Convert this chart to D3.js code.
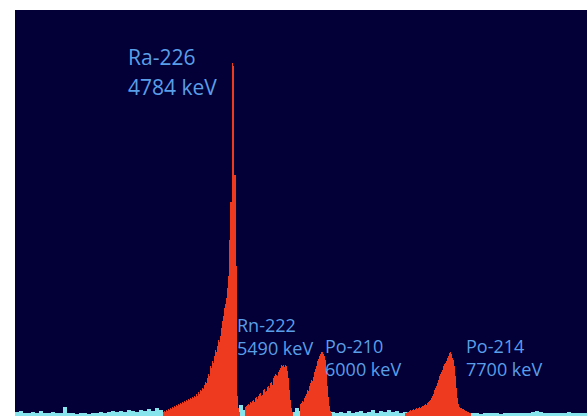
<!DOCTYPE html>
<html>
<head>
<meta charset="utf-8">
<script src="https://cdn.jsdelivr.net/npm/d3@7"></script>
<style>
  html, body { margin: 0; padding: 0; background: #ffffff; }
  svg { display: block; }
</style>
</head>
<body>
<svg id="chart" width="587" height="416"></svg>
<script>
// ---- data (channel counts) ----
const totalChannels = 572;

// background (cyan) counts, 4-channel bins from channel 0
const backgroundBinSize = 4;
const backgroundCounts = [
  4,5,3,3,4,3,5,3,3,4, 3,3,9,3,3,2,3,3,2,3,
  3,4,3,4,5,4,5,4,6,5, 4,6,5,7,5,8,6,4,4,4,
  4,4,4,4,4,4,4,4,4,4, 4,4,4,4,4,4,11,6,4,4,
  4,4,4,4,4,4,4,4,4,4, 8,5,4,4,4,4,4,4,4,4,
  3,4,3,5,3,4,5,3,4,6, 3,5,4,6,4,5,3,4,3,3,
  3,3,3,3,3,3,3,3,3,3, 3,3,3,3,3,3,2,3,3,3,
  3,2,3,3,3,3,3,3,3,4, 5,4,3,3,3,3,3,3,4,3,
  3,3,3
];

// alpha peaks (red): start channel + per-channel counts
const ra226Start = 148;
const ra226Counts = [
  4,5,4,6,5,7,6,8,7,9, 8,10,9,11,10,12,11,13,12,14,
  13,15,14,16,15,17,16,18,17,19, 18,20,19,22,20,24,22,26,
  25,28,27,31,34,33,38,42,40,50, 48,55,53,60,66,64,70,76,74,80,
  88,95,100,108,112,118,128,140,
  176,214,214,353,350,241,241,150,20,8,4
];
const rn222Start = 230;
const rn222Counts = [
  9,10,11,12,11,14,13,15,16,14, 18,19,17,20,22,23,20,21,26,27,
  24,25,29,30,28,33,34,31,38,40, 42,41,40,44,46,48,51,50,51,49,
  51,50,45,38,26,16,8,4
];
const po210Start = 285;
const po210Counts = [
  12,13,15,14,18,20,22,26,25,30, 33,36,35,39,44,47,50,55,57,60,
  62,64,64,62,60,56,45,30,19,10, 5,3
];
const po214Start = 390;
const po214Counts = [
  3,3,4,4,5,6,5,6,7,6, 7,8,7,8,9,8,9,10,10,11,
  12,11,13,14,15,16,18,20,22,26, 28,30,33,36,40,42,44,46,50,52,
  53,55,58,60,63,64,62,58,56,50, 40,28,18,12,9,8,8,7,7,6,
  5,5,4,4,3,3
];

const peakLabels = [
  { name: "Ra-226", energy: "4784 keV", ch: 113, size: "big" },
  { name: "Rn-222", energy: "5490 keV", ch: 222, size: "small" },
  { name: "Po-210", energy: "6000 keV", ch: 310, size: "small" },
  { name: "Po-214", energy: "7700 keV", ch: 451, size: "small" }
];
const labelLineTop = [65, 332, 353, 353];

// ---- drawing ----
const svg = d3.select("#chart");
const W = 587, H = 416;
const plot = { left: 15, top: 10, right: 587, bottom: 416 };

const x = d3.scaleLinear().domain([0, totalChannels]).range([plot.left, plot.right]);
const y = d3.scaleLinear().domain([0, 400]).range([plot.bottom, plot.bottom - 400]);

svg.append("rect")
  .attr("x", plot.left).attr("y", plot.top)
  .attr("width", plot.right - plot.left).attr("height", plot.bottom - plot.top)
  .attr("fill", "#020036");

// background noise
const bg = backgroundCounts.map((c, i) => ({ ch: i * backgroundBinSize, c }));
svg.append("g").selectAll("rect").data(bg).join("rect")
  .attr("x", d => x(d.ch))
  .attr("width", d => x(d.ch + backgroundBinSize) - x(d.ch))
  .attr("y", d => y(d.c))
  .attr("height", d => y(0) - y(d.c))
  .attr("fill", "#86e4ec")
  .attr("shape-rendering", "crispEdges");

// peaks
function channels(start, counts) {
  return counts.map((c, i) => ({ ch: start + i, c }));
}
const red = [].concat(
  channels(ra226Start, ra226Counts),
  channels(rn222Start, rn222Counts),
  channels(po210Start, po210Counts),
  channels(po214Start, po214Counts)
);
svg.append("g").selectAll("rect").data(red).join("rect")
  .attr("x", d => x(d.ch))
  .attr("width", d => x(d.ch + 1) - x(d.ch))
  .attr("y", d => y(d.c))
  .attr("height", d => y(0) - y(d.c))
  .attr("fill", "#ee3a1f")
  .attr("shape-rendering", "crispEdges");

// labels
const lg = svg.append("g")
  .attr("font-family", "'Open Sans', 'Noto Sans', sans-serif")
  .attr("fill", "#5a9ee8");
peakLabels.forEach((p, i) => {
  const big = p.size === "big";
  const fs = big ? 21 : 18;
  const gap = big ? 30 : 23;
  lg.append("text")
    .attr("x", x(p.ch)).attr("y", labelLineTop[i])
    .attr("font-size", fs).text(p.name);
  lg.append("text")
    .attr("x", x(p.ch)).attr("y", labelLineTop[i] + gap)
    .attr("font-size", fs).text(p.energy);
});
</script>
</body>
</html>
